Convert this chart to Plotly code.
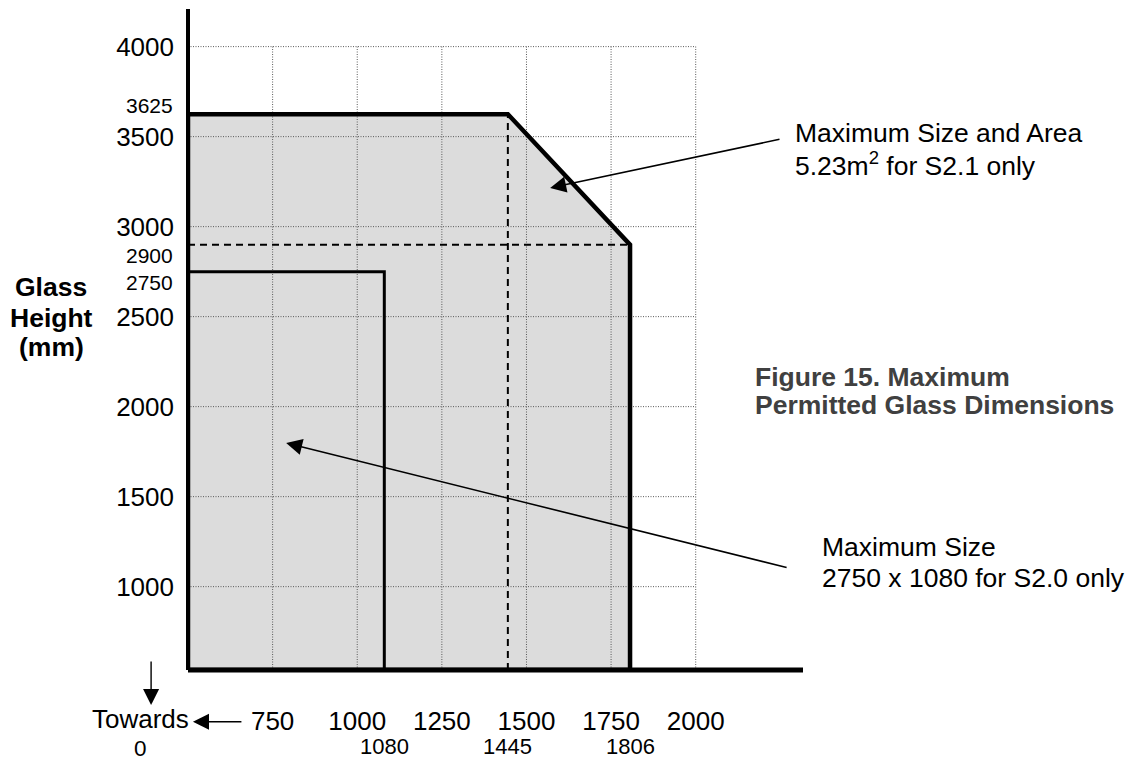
import plotly.graph_objects as go

# ---------------- data ----------------
x_tick_vals = [750, 1000, 1250, 1500, 1750, 2000]
x_tick_text = ["750", "1000", "1250", "1500", "1750", "2000"]
y_tick_vals = [1000, 1500, 2000, 2500, 3000, 3500, 4000]
y_tick_text = ["1000", "1500", "2000", "2500", "3000", "3500", "4000"]

x_extra_vals = [1080, 1445, 1806]          # extra width labels
y_extra_vals = [3625, 2900, 2750]          # extra height labels

# S2.1 envelope (maximum size and area)
s21_corner_width = 1445
s21_max_width = 1806
s21_max_height = 3625
s21_height_at_max_width = 2900

# S2.0 maximum size
s20_width = 1080
s20_height = 2750

# grid extents
grid_x_max = 2000
grid_y_max = 4000

# axis ranges
x_min, x_max = 500, 2317
y_floor, y_max = 537, 4209

FONT = "Liberation Sans, Arial, Helvetica, sans-serif"

fig = go.Figure()

# envelope fill
env_x = [x_min, x_min, s21_corner_width, s21_max_width, s21_max_width, x_min]
env_y = [y_floor, s21_max_height, s21_max_height, s21_height_at_max_width, y_floor, y_floor]
fig.add_trace(go.Scatter(x=env_x, y=env_y, mode="lines", fill="toself",
                         fillcolor="#dcdcdc", line=dict(width=0),
                         hoverinfo="skip", showlegend=False))

# grid (bounded to the labelled range)
gx, gy = [], []
for v in x_tick_vals:
    gx += [v, v, None]
    gy += [y_floor, grid_y_max, None]
for v in y_tick_vals:
    gx += [x_min, grid_x_max, None]
    gy += [v, v, None]
fig.add_trace(go.Scatter(x=gx, y=gy, mode="lines",
                         line=dict(color="#5a5a5a", width=1, dash="1px,1.5px"),
                         hoverinfo="skip", showlegend=False))

# dashed guide lines
fig.add_trace(go.Scatter(x=[s21_corner_width, s21_corner_width], y=[y_floor, s21_max_height],
                         mode="lines", line=dict(color="black", width=2, dash="7px,5px"),
                         hoverinfo="skip", showlegend=False))
fig.add_trace(go.Scatter(x=[x_min, s21_max_width], y=[s21_height_at_max_width, s21_height_at_max_width],
                         mode="lines", line=dict(color="black", width=2, dash="7px,5px"),
                         hoverinfo="skip", showlegend=False))

# envelope outline
fig.add_trace(go.Scatter(x=env_x, y=env_y, mode="lines",
                         line=dict(color="black", width=4.5),
                         hoverinfo="skip", showlegend=False))

# S2.0 rectangle
fig.add_trace(go.Scatter(x=[x_min, s20_width, s20_width], y=[s20_height, s20_height, y_floor],
                         mode="lines", line=dict(color="black", width=3),
                         hoverinfo="skip", showlegend=False))

# axis lines as shapes
fig.add_shape(type="line", xref="paper", yref="paper", x0=0, x1=0, y0=0, y1=1,
              line=dict(color="black", width=4), layer="above")
fig.add_shape(type="line", xref="paper", yref="paper", x0=0, x1=1, y0=0, y1=0,
              line=dict(color="black", width=5), layer="above")

ann = []
# extra y labels (nudged slightly so they do not collide with the main ticks)
extra_y_shift = {3625: 9, 2900: -11, 2750: -11}
for v in y_extra_vals:
    ann.append(dict(x=0, xref="paper", y=v, yref="y", text=str(v), showarrow=False,
                    xanchor="right", yanchor="middle", xshift=-13, yshift=extra_y_shift[v],
                    font=dict(family=FONT, size=21, color="black")))
# extra x labels
for v in x_extra_vals:
    ann.append(dict(x=v, xref="x", y=-0.116, yref="paper", text=str(v), showarrow=False,
                    xanchor="center", yanchor="middle",
                    font=dict(family=FONT, size=22, color="black")))

# y axis title
for txt, yy in [("Glass", 0.5799), ("Height", 0.5325), ("(mm)", 0.4891)]:
    ann.append(dict(x=-0.222, xref="paper", y=yy, yref="paper", text="<b>%s</b>" % txt,
                    showarrow=False, xanchor="center", yanchor="middle",
                    font=dict(family=FONT, size=26.5, color="black")))

# caption
for txt, yy in [("Figure 15. Maximum", 0.4437), ("Permitted Glass Dimensions", 0.4009)]:
    ann.append(dict(x=0.918, xref="paper", y=yy, yref="paper", text="<b>%s</b>" % txt,
                    showarrow=False, xanchor="left", yanchor="middle",
                    font=dict(family=FONT, size=26.5, color="#404040")))

# callout texts
for txt, yy in [("Maximum Size and Area", 0.8124), ("5.23m<sup>2</sup> for S2.1 only", 0.7655)]:
    ann.append(dict(x=0.983, xref="paper", y=yy, yref="paper", text=txt,
                    showarrow=False, xanchor="left", yanchor="middle",
                    font=dict(family=FONT, size=26.5, color="black")))
for txt, yy in [("Maximum Size", 0.1861), ("2750 x 1080 for S2.0 only", 0.1392)]:
    ann.append(dict(x=1.028, xref="paper", y=yy, yref="paper", text=txt,
                    showarrow=False, xanchor="left", yanchor="middle",
                    font=dict(family=FONT, size=26.5, color="black")))

# callout arrows
ann.append(dict(x=1570, y=3215, xref="x", yref="y", ax=2252, ay=3487, axref="x", ayref="y",
                text="", showarrow=True, arrowhead=2, arrowsize=2.0, arrowwidth=1.6,
                arrowcolor="black"))
ann.append(dict(x=790, y=1798, xref="x", yref="y", ax=2273, ay=1104, axref="x", ayref="y",
                text="", showarrow=True, arrowhead=2, arrowsize=2.0, arrowwidth=1.6,
                arrowcolor="black"))

# "Towards 0" marks
ann.append(dict(x=-0.078, xref="paper", y=-0.0741, yref="paper", text="Towards",
                showarrow=False, xanchor="center", yanchor="middle",
                font=dict(family=FONT, size=26, color="black")))
ann.append(dict(x=-0.078, xref="paper", y=-0.1188, yref="paper", text="0",
                showarrow=False, xanchor="center", yanchor="middle",
                font=dict(family=FONT, size=22.5, color="black")))
ann.append(dict(x=0.008, xref="paper", y=-0.0782, yref="paper", ax=50, ay=0,
                text="", showarrow=True, arrowhead=2, arrowsize=2.3, arrowwidth=1.4,
                arrowcolor="black"))
ann.append(dict(x=-0.06, xref="paper", y=-0.053, yref="paper", ax=0, ay=-45,
                text="", showarrow=True, arrowhead=2, arrowsize=2.3, arrowwidth=1.4,
                arrowcolor="black"))

# page body has an 8px default margin: size the figure so it fills the window
fig.update_layout(
    width=1137, height=754,
    margin=dict(l=180, r=342, t=1, b=92),
    paper_bgcolor="white", plot_bgcolor="white",
    showlegend=False,
    annotations=ann,
    font=dict(family=FONT, color="black"),
    xaxis=dict(range=[x_min, x_max], showgrid=False, zeroline=False, showline=False,
               tickmode="array", tickvals=x_tick_vals, ticktext=x_tick_text,
               ticks="", ticklabelstandoff=33,
               tickfont=dict(family=FONT, size=26, color="black"), fixedrange=True),
    yaxis=dict(range=[y_floor, y_max], showgrid=False, zeroline=False, showline=False,
               tickmode="array", tickvals=y_tick_vals, ticktext=y_tick_text,
               ticks="", ticklabelstandoff=13,
               tickfont=dict(family=FONT, size=26, color="black"), fixedrange=True),
)

fig.write_html("out.html")
